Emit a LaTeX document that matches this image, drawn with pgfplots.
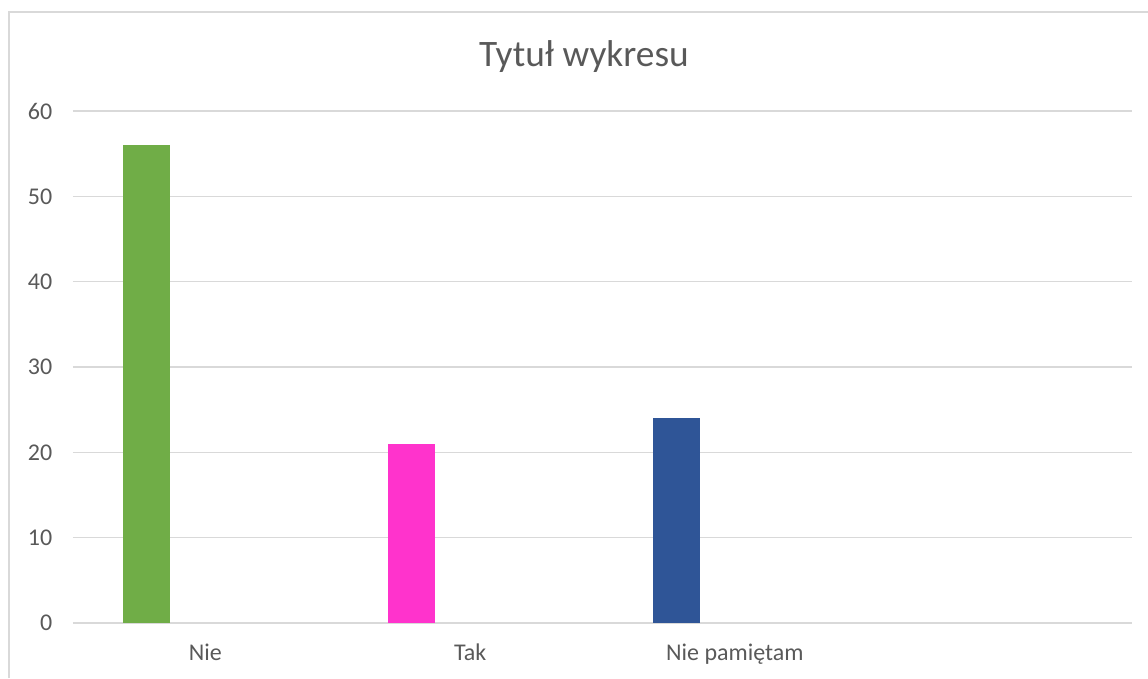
\documentclass[border=0pt]{standalone}
\usepackage{fontspec}
\setmainfont{Carlito}
\usepackage{pgfplots}
\pgfplotsset{compat=1.18}
\definecolor{txt}{HTML}{595959}
\definecolor{gridc}{HTML}{D9D9D9}
\definecolor{cNie}{HTML}{70AD47}
\definecolor{cTak}{HTML}{FF33CC}
\definecolor{cNp}{HTML}{2F5597}
\begin{document}
\begin{tikzpicture}
% page frame: 1 px of the reference = 0.75pt, origin = plot area corner (73,623)
\useasboundingbox (-54.75pt,-41.25pt) rectangle (806.25pt,467.25pt);
\draw[gridc, line width=0.9pt] (-48pt,-41.25pt) -- (-48pt,458.25pt) -- (806.25pt,458.25pt);
\begin{axis}[
    at={(0pt,0pt)}, anchor=south west,
    scale only axis,
    width=794.25pt, height=384pt,
    xmin=-0.5, xmax=3.5,
    ymin=0, ymax=60,
    ytick={0,10,...,60},
    xtick={0,1,2},
    xticklabels={Nie, Tak, Nie pamiętam},
    axis line style={draw=none},
    major tick length=0pt,
    ymajorgrids,
    grid style={gridc, line width=0.9pt},
    tick label style={font=\fontsize{18}{20}\selectfont, text=txt},
    yticklabel style={xshift=-12pt},
    xticklabel style={yshift=-12pt},
    /pgf/number format/assume math mode=true,
    title={Tytuł wykresu},
    title style={font=\fontsize{28}{32}\selectfont, text=txt,
        at={(axis description cs:0.4825,1.091)}, anchor=center, yshift=0pt},
    ybar, bar width=35.25pt, bar shift=-43.9pt,
]
\addplot[fill=cNie, draw=none] coordinates {(0,56)};
\addplot[fill=cTak, draw=none] coordinates {(1,21)};
\addplot[fill=cNp, draw=none] coordinates {(2,24)};
\end{axis}
\end{tikzpicture}
\end{document}
